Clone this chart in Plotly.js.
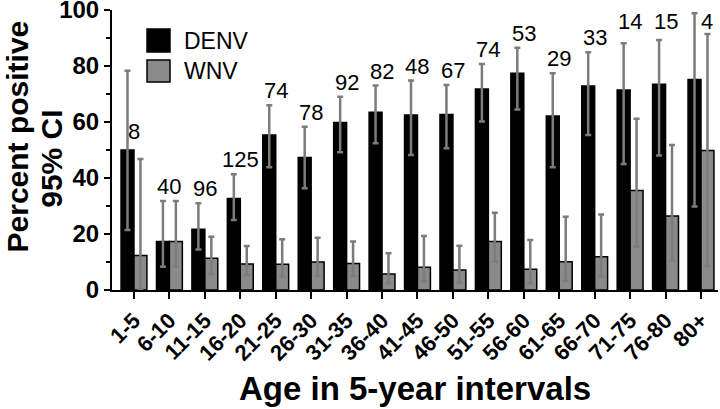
<!DOCTYPE html>
<html>
<head>
<meta charset="utf-8">
<script src="https://cdn.plot.ly/plotly-3.0.1.min.js"></script>
<style>html,body{margin:0;padding:0;background:#fff}#chart{width:720px;height:409px}</style>
</head>
<body>
<div id="chart"></div>
<script>
const ages = ['1-5','6-10','11-15','16-20','21-25','26-30','31-35','36-40','41-45','46-50','51-55','56-60','61-65','66-70','71-75','76-80','80+'];
const denv   = [50, 17.3, 21.7, 32.7, 55.4, 47.3, 59.8, 63.5, 62.5, 62.7, 71.8, 77.4, 62.1, 72.9, 71.4, 73.5, 75.2];
const denvHi = [78.3, 31.8, 31.0, 41.3, 66.0, 58.3, 69.0, 73.0, 74.8, 73.2, 80.7, 86.5, 77.4, 84.9, 88.1, 89.3, 98.8];
const denvLo = [21.4, 8.3, 14.5, 25.0, 43.8, 36.3, 49.2, 52.4, 48.2, 50.6, 60.2, 64.5, 43.8, 55.4, 45.0, 48.0, 29.8];
const wnv    = [12.3, 17.3, 11.3, 9.3, 9.2, 10.0, 9.5, 5.7, 8.1, 7.1, 17.3, 7.4, 10.1, 11.9, 35.5, 26.4, 49.8];
const wnvHi  = [46.8, 31.8, 19.0, 15.7, 18.1, 18.7, 17.3, 13.1, 19.3, 15.8, 27.6, 17.9, 26.2, 27.0, 61.2, 51.8, 91.4];
const wnvLo  = [0.3, 8.3, 5.7, 5.4, 4.8, 5.0, 5.0, 2.4, 3.0, 2.6, 10.1, 2.4, 3.3, 4.8, 15.5, 10.5, 8.6];
const counts = ['8','40','96','125','74','78','92','82','48','67','74','53','29','33','14','15','4'];

const FONT = 'Liberation Sans, Arial, Helvetica, sans-serif';
const ERRC = '#7c7c7c';
const GRAY = '#8a8a8a';

function err(v, hi, lo) {
  return {type: 'data', symmetric: false,
    array: v.map((d, i) => hi[i] - d),
    arrayminus: v.map((d, i) => d - lo[i]),
    color: ERRC, thickness: 2.5, width: 3};
}

const traces = [
  {type: 'bar', name: 'DENV', x: ages, y: denv, marker: {color: '#000', line: {color: '#000', width: 1.5}},
   error_y: err(denv, denvHi, denvLo), showlegend: false, hoverinfo: 'none'},
  {type: 'bar', name: 'WNV', x: ages, y: wnv, marker: {color: GRAY, line: {color: '#000', width: 1.5}},
   error_y: err(wnv, wnvHi, wnvLo), showlegend: false, hoverinfo: 'none'}
];

const annotations = counts.map((c, i) => {
  const a = {x: ages[i], xref: 'x', yref: 'y', text: c, showarrow: false,
    font: {family: FONT, size: 22, color: '#000'}, xanchor: 'center'};
  if (i === 0) { a.y = denv[i]; a.yanchor = 'bottom'; a.yshift = 4; }
  else if (denvHi[i] > 87) { a.y = 100; a.yanchor = 'top'; a.yshift = 3; if (i === counts.length - 1) a.xshift = 6; }
  else { a.y = denvHi[i]; a.yanchor = 'bottom'; a.yshift = 0; }
  return a;
});

// legend (drawn as shapes + text)
annotations.push(
  {xref: 'paper', yref: 'paper', x: 0.1155, y: 0.891, xanchor: 'left', yanchor: 'middle', text: 'DENV',
   showarrow: false, font: {family: FONT, size: 23, color: '#000'}},
  {xref: 'paper', yref: 'paper', x: 0.1155, y: 0.782, xanchor: 'left', yanchor: 'middle', text: 'WNV',
   showarrow: false, font: {family: FONT, size: 23, color: '#000'}},
  // axis titles
  {xref: 'paper', yref: 'paper', x: 0.5, y: -0.35, xanchor: 'center', yanchor: 'middle', text: 'Age in 5-year intervals',
   showarrow: false, font: {family: FONT, size: 33, color: '#000', weight: 700}},
  {xref: 'paper', yref: 'paper', x: -0.156, y: 0.55, xanchor: 'center', yanchor: 'middle', textangle: -90,
   text: 'Percent positive', showarrow: false, font: {family: FONT, size: 30, color: '#000', weight: 700}},
  {xref: 'paper', yref: 'paper', x: -0.1, y: 0.47, xanchor: 'center', yanchor: 'middle', textangle: -90,
   text: '95% CI', showarrow: false, font: {family: FONT, size: 30, color: '#000', weight: 700}}
);

const shapes = [
  {type: 'rect', xref: 'paper', yref: 'paper', x0: 0.0578, x1: 0.0957, y0: 0.85, y1: 0.932,
   fillcolor: '#000', line: {color: '#000', width: 1.5}},
  {type: 'rect', xref: 'paper', yref: 'paper', x0: 0.0578, x1: 0.0957, y0: 0.743, y1: 0.821,
   fillcolor: GRAY, line: {color: '#000', width: 1.5}}
];

const layout = {
  width: 720, height: 409,
  margin: {l: 112, r: 2, t: 10, b: 119},
  paper_bgcolor: '#fff', plot_bgcolor: '#fff',
  barmode: 'group', bargap: 0.27, bargroupgap: 0,
  font: {family: FONT, color: '#000'},
  xaxis: {type: 'category', range: [-0.62, 16.48], showline: true, linecolor: '#000', linewidth: 2,
    ticks: 'outside', ticklen: 7, tickwidth: 2, tickcolor: '#000', tickangle: -45,
    tickfont: {family: FONT, size: 22, color: '#000', weight: 700}, showgrid: false, zeroline: false},
  yaxis: {range: [0, 100], dtick: 20, showline: true, linecolor: '#000', linewidth: 2,
    ticks: 'outside', ticklen: 6, tickwidth: 2, tickcolor: '#000', ticklabeloverflow: 'allow',
    minor: {dtick: 10, ticks: 'outside', ticklen: 4, tickwidth: 2, tickcolor: '#000', showgrid: false},
    tickfont: {family: FONT, size: 24, color: '#000', weight: 700}, showgrid: false, zeroline: false},
  annotations: annotations,
  shapes: shapes,
  showlegend: false
};

Plotly.newPlot('chart', traces, layout, {displayModeBar: false, staticPlot: true});
</script>
</body>
</html>
